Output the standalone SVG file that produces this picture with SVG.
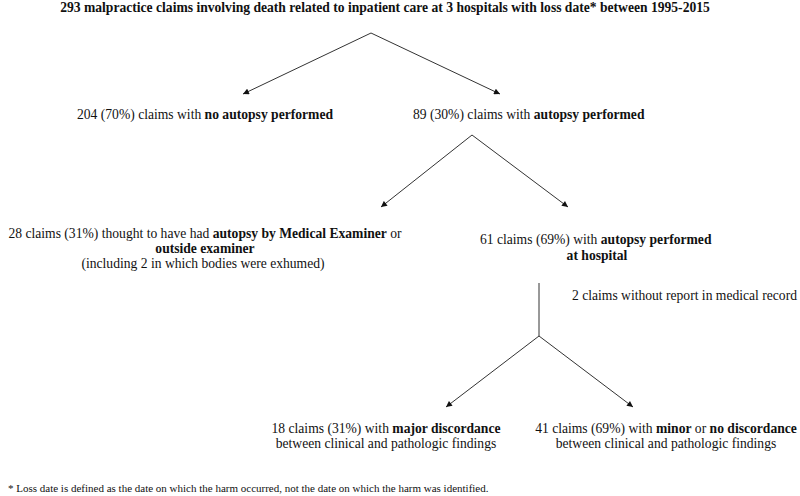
<svg xmlns="http://www.w3.org/2000/svg" width="800" height="496" viewBox="0 0 800 496">
<defs>
<style>
text{font-family:"Liberation Serif","Times New Roman",serif;fill:#111;font-size:13.6px}
.b{font-weight:bold}
.t{font-size:13.6px;font-weight:bold}
.fn{font-size:11px}
.c{text-anchor:middle}
.ln{stroke:#333;stroke-width:1;fill:none}
</style>
<marker id="ah" viewBox="0 0 10 10" refX="10" refY="5" markerWidth="7" markerHeight="6" markerUnits="userSpaceOnUse" orient="auto"><path d="M0,0 L10,5 L0,10 z" fill="#111"/></marker>
</defs>
<rect width="800" height="496" fill="#fff"/>
<g id="title"><text class="t c" x="385" y="12">293 malpractice claims involving death related to inpatient care at 3 hospitals with loss date* between 1995-2015</text></g>
<g id="connectors">
<line class="ln" x1="371" y1="33" x2="243" y2="94" marker-end="url(#ah)"/>
<line class="ln" x1="371" y1="33" x2="500" y2="94" marker-end="url(#ah)"/>
<line class="ln" x1="472" y1="135" x2="381" y2="207" marker-end="url(#ah)"/>
<line class="ln" x1="472" y1="135" x2="568" y2="207" marker-end="url(#ah)"/>
<line class="ln" x1="539" y1="283" x2="539" y2="336"/>
<line class="ln" x1="539" y1="336" x2="446" y2="407" marker-end="url(#ah)"/>
<line class="ln" x1="539" y1="336" x2="633" y2="407" marker-end="url(#ah)"/>
</g>
<g id="no-autopsy"><text x="77" y="119">204 (70%) claims with <tspan class="b">no autopsy performed</tspan></text></g>
<g id="autopsy"><text x="413" y="119">89 (30%) claims with <tspan class="b">autopsy performed</tspan></text></g>
<g id="outside"><text class="c" x="205" y="238">28 claims (31%) thought to have had <tspan class="b">autopsy by Medical Examiner</tspan> or</text>
<text class="c b" x="205" y="253">outside examiner</text>
<text class="c" x="203" y="268">(including 2 in which bodies were exhumed)</text></g>
<g id="hospital"><text x="480" y="244">61 claims (69%) with <tspan class="b">autopsy performed</tspan></text>
<text class="c b" x="597" y="260">at hospital</text></g>
<g id="no-report"><text x="572" y="300">2 claims without report in medical record</text></g>
<g id="major"><text class="c" x="386" y="433">18 claims (31%) with <tspan class="b">major discordance</tspan></text>
<text class="c" x="386" y="448">between clinical and pathologic findings</text></g>
<g id="minor"><text class="c" x="666" y="433">41 claims (69%) with <tspan class="b">minor</tspan> or <tspan class="b">no discordance</tspan></text>
<text class="c" x="666" y="448">between clinical and pathologic findings</text></g>
<g id="footnote"><text class="fn" x="8" y="492">* Loss date is defined as the date on which the harm occurred, not the date on which the harm was identified.</text></g>
</svg>
